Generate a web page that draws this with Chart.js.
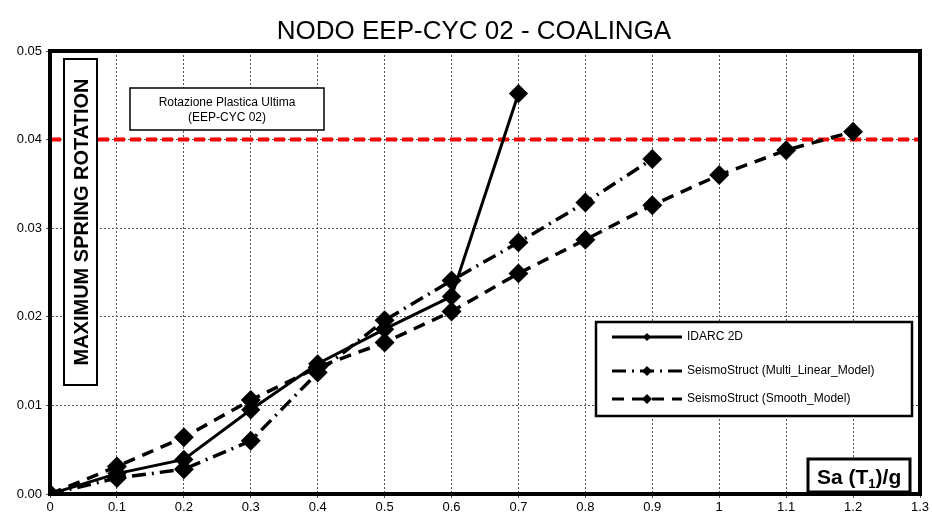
<!DOCTYPE html>
<html>
<head>
<meta charset="utf-8">
<script src="https://cdn.jsdelivr.net/npm/chart.js@4.4.1/dist/chart.umd.min.js"></script>
<style>
  body { margin: 0; background: #fff; }
  #wrap { width: 932px; height: 518px; }
</style>
</head>
<body>
<div id="wrap"><canvas id="rotChart" width="932" height="518"></canvas></div>
<script>
// Sa(T1)/g values
const saLevels = [0, 0.1, 0.2, 0.3, 0.4, 0.5, 0.6, 0.7, 0.8, 0.9, 1.0, 1.1, 1.2];
// max spring rotation per model
const idarc2d = [0, 0.0023, 0.0039, 0.0095, 0.0147, 0.0186, 0.0223, 0.0452];
const multiLinear = [0, 0.0018, 0.0028, 0.0060, 0.0137, 0.0196, 0.0241, 0.0284, 0.0329, 0.0378];
const smoothModel = [0, 0.0031, 0.0064, 0.0106, 0.0143, 0.0171, 0.0206, 0.0249, 0.0287, 0.0326, 0.0360, 0.0388, 0.0409];
const ultimateRot = 0.04;
const xRange = [0, 1.3];
const yRange = [0, 0.05];

const seriesNames = ['IDARC 2D', 'SeismoStruct (Multi_Linear_Model)', 'SeismoStruct (Smooth_Model)'];
const dashes = [[], [14, 6, 2, 6], [12, 8]];

function toPoints(vals) {
    return vals.map((v, i) => ({ x: saLevels[i], y: v }));
}

const FONT = 'Liberation Sans, Arial, sans-serif';

// boxes, legend and outer frame
const decorPlugin = {
    id: 'decor',
    afterDraw(chart) {
        const c = chart.ctx;
        const a = chart.chartArea;
        c.save();

        // title
        c.fillStyle = '#000';
        c.font = '26px ' + FONT;
        c.textAlign = 'center';
        c.textBaseline = 'middle';
        c.fillText('NODO EEP-CYC 02 - COALINGA', 474, 32);

        // frame
        c.strokeStyle = '#000';
        c.lineWidth = 4;
        c.strokeRect(a.left, a.top, a.right - a.left, a.bottom - a.top);

        // y title box
        c.lineWidth = 2;
        c.fillStyle = '#fff';
        c.fillRect(a.left + 14, a.top + 8, 33, 326);
        c.strokeRect(a.left + 14, a.top + 8, 33, 326);
        c.save();
        c.translate(a.left + 31, a.top + 171);
        c.rotate(-Math.PI / 2);
        c.fillStyle = '#000';
        c.font = 'bold 20px ' + FONT;
        c.fillText('MAXIMUM SPRING ROTATION', 0, 1);
        c.restore();

        // annotation box
        c.lineWidth = 1.5;
        c.fillStyle = '#fff';
        c.fillRect(130, 88, 194, 42);
        c.strokeRect(130, 88, 194, 42);
        c.fillStyle = '#000';
        c.font = '12px ' + FONT;
        c.fillText('Rotazione Plastica Ultima', 227, 103);
        c.fillText('(EEP-CYC 02)', 227, 118);

        // x title box
        c.lineWidth = 3;
        c.fillStyle = '#fff';
        c.fillRect(a.right - 112, a.bottom - 35, 102, 33);
        c.strokeRect(a.right - 112, a.bottom - 35, 102, 33);
        c.fillStyle = '#000';
        c.textAlign = 'left';
        c.textBaseline = 'alphabetic';
        let tx = a.right - 103;
        const ty = a.bottom - 10;
        c.font = 'bold 21px ' + FONT;
        c.fillText('Sa (T', tx, ty);
        tx += c.measureText('Sa (T').width;
        c.font = 'bold 13px ' + FONT;
        c.fillText('1', tx, ty + 4);
        tx += c.measureText('1').width;
        c.font = 'bold 21px ' + FONT;
        c.fillText(')/g', tx, ty);

        // legend
        const lx = 596, ly = 322, lw = 316, lh = 94;
        c.lineWidth = 2.5;
        c.fillStyle = '#fff';
        c.fillRect(lx, ly, lw, lh);
        c.strokeRect(lx, ly, lw, lh);
        const rows = [337, 371, 399];
        chart.data.datasets.slice(0, 3).forEach((ds, i) => {
            const y = rows[i];
            c.strokeStyle = '#000';
            c.lineWidth = 3;
            c.setLineDash(dashes[i]);
            c.beginPath();
            c.moveTo(612, y);
            c.lineTo(682, y);
            c.stroke();
            c.setLineDash([]);
            const r = i === 0 ? 4 : 5;
            c.fillStyle = '#000';
            c.beginPath();
            c.moveTo(647, y - r);
            c.lineTo(647 + r, y);
            c.lineTo(647, y + r);
            c.lineTo(647 - r, y);
            c.closePath();
            c.fill();
            c.font = '12px ' + FONT;
            c.textBaseline = 'middle';
            c.fillText(ds.label, 687, y);
        });

        c.restore();
    }
};

const ctx = document.getElementById('rotChart').getContext('2d');

const rotChart = new Chart(ctx, {
    type: 'line',
    data: {
        datasets: [
            {
                label: seriesNames[0],
                data: toPoints(idarc2d),
                borderColor: '#000',
                backgroundColor: '#000',
                borderWidth: 3,
                borderDash: dashes[0],
                pointStyle: 'rectRot',
                pointRadius: 7.5,
                tension: 0
            },
            {
                label: seriesNames[1],
                data: toPoints(multiLinear),
                borderColor: '#000',
                backgroundColor: '#000',
                borderWidth: 3.5,
                borderDash: dashes[1],
                pointStyle: 'rectRot',
                pointRadius: 7.5,
                tension: 0
            },
            {
                label: seriesNames[2],
                data: toPoints(smoothModel),
                borderColor: '#000',
                backgroundColor: '#000',
                borderWidth: 3.5,
                borderDash: dashes[2],
                pointStyle: 'rectRot',
                pointRadius: 7.5,
                tension: 0
            },
            {
                label: 'limit',
                data: [{ x: xRange[0], y: ultimateRot }, { x: xRange[1], y: ultimateRot }],
                borderColor: '#ff0000',
                borderWidth: 4,
                borderDash: [11, 5],
                pointRadius: 0,
                order: 5
            }
        ]
    },
    options: {
        responsive: false,
        animation: false,
        layout: { padding: { top: 51, right: 12, left: 0, bottom: 0 } },
        plugins: {
            legend: { display: false },
            tooltip: { enabled: false }
        },
        scales: {
            x: {
                type: 'linear',
                min: xRange[0],
                max: xRange[1],
                afterFit: s => { s.height = 24; },
                ticks: {
                    stepSize: 0.1,
                    color: '#000',
                    font: { family: FONT, size: 13 },
                    padding: 2,
                    maxRotation: 0,
                    autoSkip: false,
                    callback: v => String(+v.toFixed(1))
                },
                grid: { color: '#555', lineWidth: 1, tickLength: 4, drawTicks: true },
                border: { color: '#000', width: 4, dash: [2, 2] }
            },
            y: {
                min: yRange[0],
                max: yRange[1],
                afterFit: s => { s.width = 50; },
                ticks: {
                    stepSize: 0.01,
                    color: '#000',
                    font: { family: FONT, size: 13 },
                    padding: 4,
                    callback: v => v.toFixed(2)
                },
                grid: { color: '#555', lineWidth: 1, tickLength: 4 },
                border: { color: '#000', width: 4, dash: [2, 2] }
            }
        }
    },
    plugins: [decorPlugin]
});
</script>
</body>
</html>
